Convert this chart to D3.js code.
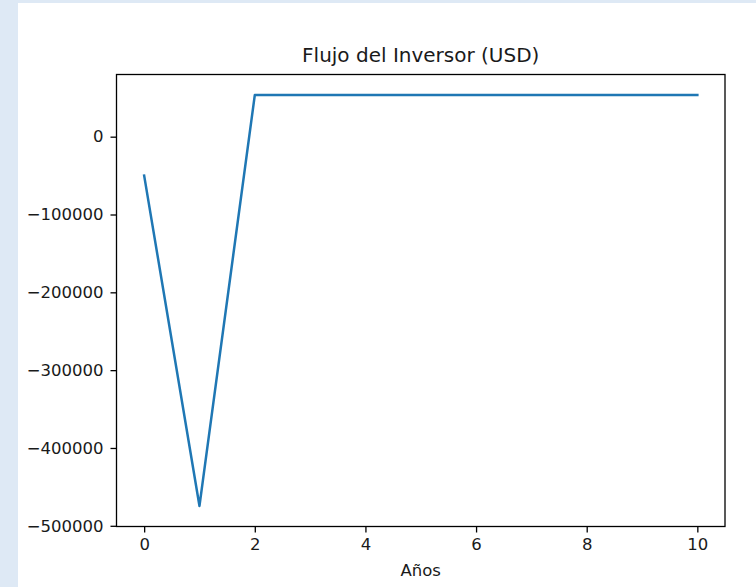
<!DOCTYPE html>
<html>
<head>
<meta charset="utf-8">
<script src="https://cdn.jsdelivr.net/npm/d3@7"></script>
<style>
  html, body { margin: 0; padding: 0; background: #dee9f5; }
  svg { display: block; }
  text { font-family: "DejaVu Sans", sans-serif; fill: #1a1a1a; }
</style>
</head>
<body>
<script>
const years = [0, 1, 2, 3, 4, 5, 6, 7, 8, 9, 10];
const flujo = [-50000, -474500, 53500, 53500, 53500, 53500, 53500, 53500, 53500, 53500, 53500];
const xTicks = [0, 2, 4, 6, 8, 10];
const yTicks = [0, -100000, -200000, -300000, -400000, -500000];
const title = "Flujo del Inversor (USD)";
const xLabel = "Años";

const W = 756, H = 587;
const svg = d3.select("body").append("svg").attr("width", W).attr("height", H);

// white figure area
svg.append("rect").attr("x", 18).attr("y", 3).attr("width", W - 18).attr("height", H - 3).attr("fill", "#ffffff");

const box = { left: 116.5, right: 725, top: 74.5, bottom: 526.5 };

const xmin = d3.min(years), xmax = d3.max(years), xpad = (xmax - xmin) * 0.05;
const ymin = d3.min(flujo), ymax = d3.max(flujo), ypad = (ymax - ymin) * 0.05;

const x = d3.scaleLinear().domain([xmin - xpad, xmax + xpad]).range([box.left, box.right]);
const y = d3.scaleLinear().domain([ymin - ypad, ymax + ypad]).range([box.bottom, box.top]);

const fmt = d3.format("d");
const fs = "16.5px";

// x axis
const xAxis = d3.axisBottom(x).tickValues(xTicks).tickFormat(fmt).tickSize(6).tickPadding(5);
const gx = svg.append("g").attr("transform", `translate(0,${box.bottom})`).call(xAxis);
gx.select(".domain").remove();
gx.selectAll(".tick line").attr("stroke", "#000").attr("stroke-width", 1.3);
gx.selectAll(".tick text").attr("font-size", fs).attr("font-family", "DejaVu Sans").attr("fill", "#1a1a1a").attr("dy", "0.75em");

// y axis
const yAxis = d3.axisLeft(y).tickValues(yTicks).tickFormat(fmt).tickSize(6).tickPadding(7);
const gy = svg.append("g").attr("transform", `translate(${box.left},0)`).call(yAxis);
gy.select(".domain").remove();
gy.selectAll(".tick line").attr("stroke", "#000").attr("stroke-width", 1.3);
gy.selectAll(".tick text").attr("font-size", fs).attr("font-family", "DejaVu Sans").attr("fill", "#1a1a1a");

// line
const line = d3.line().x((d, i) => x(years[i])).y(d => y(d));
svg.append("path").datum(flujo).attr("d", line)
  .attr("fill", "none").attr("stroke", "#1f77b4").attr("stroke-width", 2.5)
  .attr("stroke-linejoin", "round").attr("stroke-linecap", "square");

// spines
svg.append("rect").attr("x", box.left).attr("y", box.top)
  .attr("width", box.right - box.left).attr("height", box.bottom - box.top)
  .attr("fill", "none").attr("stroke", "#000").attr("stroke-width", 1.3);

// title
svg.append("text").attr("x", (box.left + box.right) / 2).attr("y", 62)
  .attr("text-anchor", "middle").attr("font-size", "20px").text(title);

// x label
svg.append("text").attr("x", (box.left + box.right) / 2).attr("y", 576)
  .attr("text-anchor", "middle").attr("font-size", fs).text(xLabel);
</script>
</body>
</html>
